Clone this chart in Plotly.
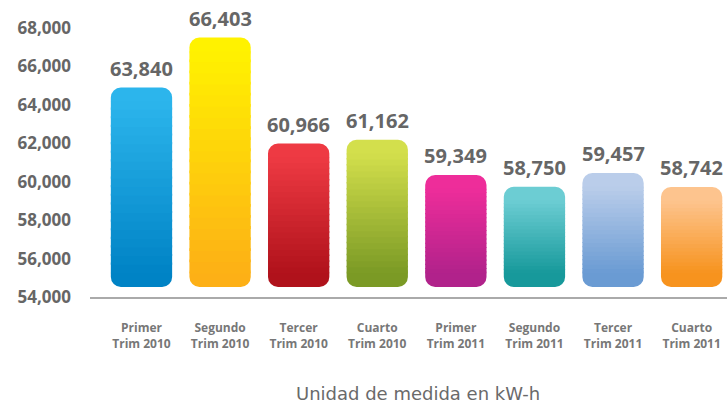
import plotly.graph_objects as go

categories = ["Primer<br>Trim 2010", "Segundo<br>Trim 2010", "Tercer<br>Trim 2010", "Cuarto<br>Trim 2010",
              "Primer<br>Trim 2011", "Segundo<br>Trim 2011", "Tercer<br>Trim 2011", "Cuarto<br>Trim 2011"]
values = [63840, 66403, 60966, 61162, 59349, 58750, 59457, 58742]
tick_values = [54000, 56000, 58000, 60000, 62000, 64000, 66000, 68000]
unit_label = "Unidad de medida en kW-h"

top_colors = ["#2cb5ec", "#fff200", "#ee3a43", "#d3df4c", "#ee2d9a", "#6ccdd3", "#bacdea", "#fdc48e"]
bottom_colors = ["#0083c5", "#fdb016", "#b0121b", "#7b9a25", "#b1228b", "#17999b", "#6a9bd3", "#f7931e"]

BAR_FLOOR = 53614   # visual bottom of the bars
CAP = 1200          # height of rounded caps (data units)
EXT = 500           # overlap of gradient body into the caps
NSEG = 20
FONT = "Open Sans"

def hex2rgb(h):
    h = h.lstrip("#")
    return [int(h[i:i + 2], 16) for i in (0, 2, 4)]

def mix(c1, c2, t):
    a, b = hex2rgb(c1), hex2rgb(c2)
    return "rgb(%d,%d,%d)" % tuple(round(a[i] + (b[i] - a[i]) * t) for i in range(3))

x = list(range(len(values)))
W = 0.78
fig = go.Figure()

# bottom rounded cap (negative direction so the rounded tip is at the bottom)
fig.add_trace(go.Bar(x=x, y=[-CAP] * len(values), base=[BAR_FLOOR + CAP] * len(values), width=W,
                     marker=dict(color=bottom_colors, cornerradius=10, line=dict(width=0)),
                     hoverinfo="skip", showlegend=False))
# top rounded cap
fig.add_trace(go.Bar(x=x, y=[CAP] * len(values), base=[v - CAP for v in values], width=W,
                     marker=dict(color=top_colors, cornerradius=10, line=dict(width=0)),
                     hoverinfo="skip", showlegend=False))

# gradient body segments
for k in range(NSEG):
    bases, heights, cols = [], [], []
    for i, v in enumerate(values):
        lo = BAR_FLOOR + CAP - EXT
        hi = v - CAP + EXT
        seg = (hi - lo) / NSEG
        b0 = lo + k * seg
        bases.append(b0)
        heights.append(seg * (1.25 if k < NSEG - 1 else 1.0))
        t = 1 - (k + 0.5) / NSEG
        cols.append(mix(top_colors[i], bottom_colors[i], t))
    fig.add_trace(go.Bar(x=x, y=heights, base=bases, width=W,
                         marker=dict(color=cols, cornerradius=0, line=dict(width=0)),
                         hoverinfo="skip", showlegend=False))

# invisible trace for the tick axis
fig.add_trace(go.Scatter(x=[0], y=[tick_values[0]], yaxis="y2", mode="markers",
                         marker=dict(opacity=0), hoverinfo="skip", showlegend=False))

annotations = [dict(x=xi, y=v, xref="x", yref="y", text=f"{v:,}", showarrow=False,
                    xanchor="center", yanchor="bottom", yshift=4,
                    font=dict(family=FONT, size=20, color="#666666", weight="bold"))
               for xi, v in zip(x, values)]
annotations.append(dict(text=unit_label, xref="paper", yref="paper", x=0.515, y=-0.347,
                        xanchor="center", yanchor="middle", showarrow=False,
                        font=dict(family="DejaVu Sans", size=18, color="#6a6a6a")))

fig.update_layout(
    width=727, height=404,
    margin=dict(l=90, r=0, t=20, b=107),
    paper_bgcolor="white", plot_bgcolor="white",
    barmode="overlay",
    xaxis=dict(range=[-0.655, 7.45], tickvals=x, ticktext=categories, showline=True,
               linecolor="#aaaaaa", linewidth=2, showgrid=False, zeroline=False,
               ticks="", ticklabelstandoff=19,
               tickfont=dict(family=FONT, size=12, color="#777777", weight="bold")),
    yaxis=dict(range=[53101, 67300], visible=False, showgrid=False, zeroline=False),
    yaxis2=dict(range=[54000, 68416], overlaying="y", side="left", tickvals=tick_values,
                tickformat=",d", showgrid=False, zeroline=False, showline=False, ticks="",
                ticklabelstandoff=18,
                tickfont=dict(family=FONT, size=17, color="#666666", weight="bold")),
    annotations=annotations,
)

fig.write_html("out.html", config={"displayModeBar": False},
               post_script="document.body.style.margin='0px';")
